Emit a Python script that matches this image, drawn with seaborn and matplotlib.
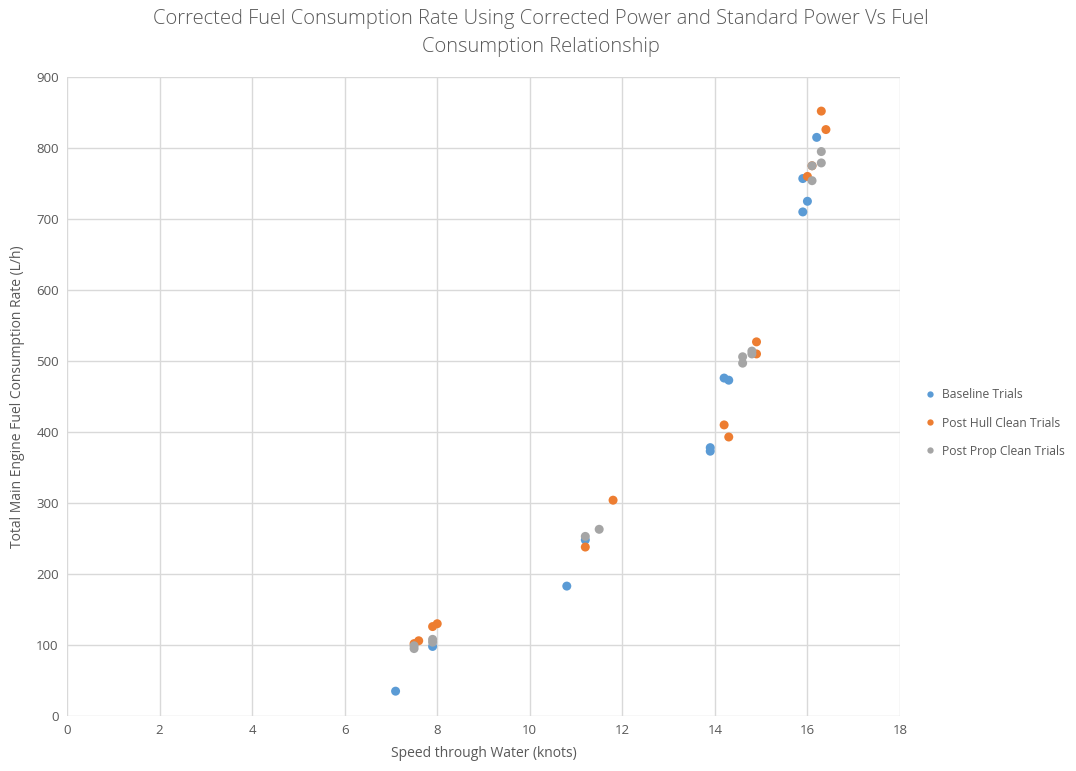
import matplotlib
matplotlib.use("Agg")
import matplotlib.pyplot as plt
import seaborn as sns
import pandas as pd

baseline_x = [7.1, 7.9, 10.8, 11.2, 13.9, 13.9, 14.2, 14.3, 15.9, 15.9, 16.0, 16.2]
baseline_y = [35, 98, 183, 248, 378, 373, 476, 473, 757, 710, 725, 815]
hull_x = [7.5, 7.6, 7.9, 8.0, 11.2, 11.8, 14.2, 14.3, 14.9, 14.9, 16.0, 16.1, 16.3, 16.4]
hull_y = [102, 106, 126, 130, 238, 304, 410, 393, 527, 510, 760, 775, 852, 826]
prop_x = [7.5, 7.5, 7.9, 7.9, 11.2, 11.5, 14.6, 14.6, 14.8, 14.8, 16.1, 16.1, 16.3, 16.3]
prop_y = [95, 99, 104, 108, 253, 263, 506, 497, 514, 510, 775, 754, 795, 779]
series_names = ["Baseline Trials", "Post Hull Clean Trials", "Post Prop Clean Trials"]
x_ticks = [0, 2, 4, 6, 8, 10, 12, 14, 16, 18]
y_ticks = [0, 100, 200, 300, 400, 500, 600, 700, 800, 900]

df = pd.concat([
    pd.DataFrame({"x": baseline_x, "y": baseline_y, "series": series_names[0]}),
    pd.DataFrame({"x": hull_x, "y": hull_y, "series": series_names[1]}),
    pd.DataFrame({"x": prop_x, "y": prop_y, "series": series_names[2]}),
])

sns.set_theme(style="white")
plt.rcParams["font.family"] = ["Open Sans", "DejaVu Sans"]
text_col = "#595959"

fig = plt.figure(figsize=(10.76, 7.71), dpi=100)
ax = fig.add_axes([0.0623, 0.0713, 0.7741, 0.8288])
palette = {series_names[0]: "#5B9BD5", series_names[1]: "#ED7D31", series_names[2]: "#A5A5A5"}
sns.scatterplot(data=df, x="x", y="y", hue="series", palette=palette, s=42,
                edgecolor="none", ax=ax, legend=True, zorder=3)

ax.set_xlim(0, 18)
ax.set_ylim(0, 900)
ax.set_xticks(x_ticks)
ax.set_yticks(y_ticks)
ax.grid(True, color="#D9D9D9", linewidth=1)
ax.set_axisbelow(True)
for sp in ax.spines.values():
    sp.set_visible(False)
ax.tick_params(axis="both", colors=text_col, labelsize=9.5, length=0, pad=6)
ax.set_xlabel("Speed through Water (knots)", color=text_col, fontsize=10, labelpad=6)
ax.set_ylabel("Total Main Engine Fuel Consumption Rate (L/h)", color=text_col, fontsize=10, labelpad=8)

fig.suptitle("Corrected Fuel Consumption Rate Using Corrected Power and Standard Power Vs Fuel\nConsumption Relationship",
             x=0.503, y=0.988, color=text_col, fontsize=14.5, fontweight="light", linespacing=1.5)

leg = ax.legend(loc="center left", bbox_to_anchor=(1.022, 0.4585), frameon=False,
                fontsize=8.7, handletextpad=0.0, labelspacing=1.25, markerscale=0.7,
                borderaxespad=0.0, borderpad=0.0)
for t in leg.get_texts():
    t.set_color(text_col)

fig.savefig("out.png", dpi=100)
